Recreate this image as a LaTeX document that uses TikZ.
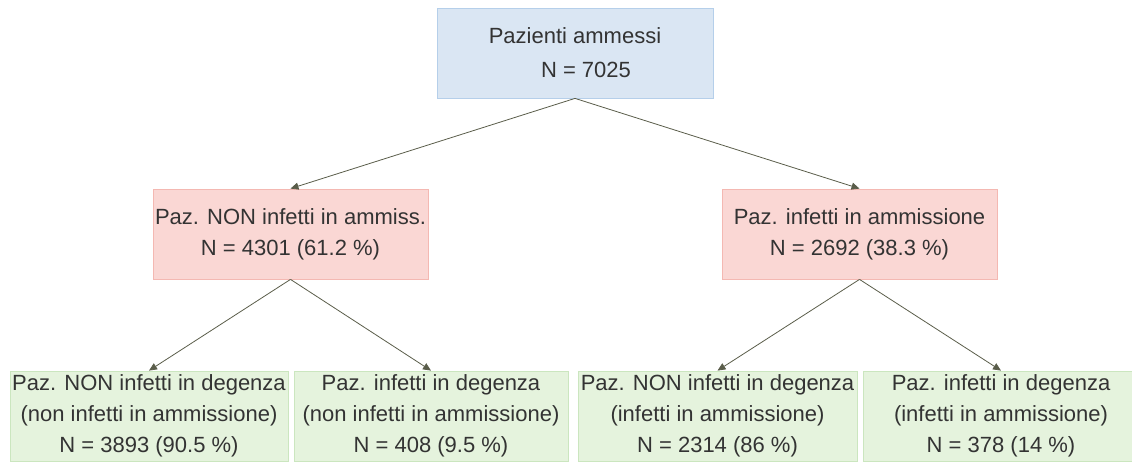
\documentclass[tikz,border=0pt]{standalone}
\usepackage{fontspec}
\setmainfont{Liberation Sans}
\usetikzlibrary{arrows.meta}
\definecolor{bluefill}{HTML}{DAE6F3}
\definecolor{blueline}{HTML}{B5CFEA}
\definecolor{pinkfill}{HTML}{FAD7D4}
\definecolor{pinkline}{HTML}{F4B8B2}
\definecolor{greenfill}{HTML}{E5F3DD}
\definecolor{greenline}{HTML}{CBE6BF}
\definecolor{textgray}{HTML}{333333}
\definecolor{linkgray}{HTML}{5A5D4A}
\tikzset{
  box/.style={rectangle, minimum height=90pt, inner sep=0pt, align=center,
    text=textgray, font=\fontsize{22}{31}\selectfont, line width=0.8pt,
    execute at begin node=\rule{0pt}{25pt}},
  topbox/.style={box, fill=bluefill, draw=blueline},
  midbox/.style={box, fill=pinkfill, draw=pinkline},
  leafbox/.style={box, fill=greenfill, draw=greenline},
  link/.style={draw=linkgray, line width=0.8pt, -{Triangle[length=8pt,width=7pt]}}
}
\begin{document}
\begin{tikzpicture}[x=1pt,y=-1pt]
\useasboundingbox (0,0) rectangle (1132,462);
% Admitted patients
\node[topbox, minimum width=276pt] (ammessi) at (575,53) {Pazienti ammessi\\[3pt]\hspace*{22pt}N = 7025};
% Status at admission
\node[midbox, minimum width=275pt] (noninf) at (290.5,234) {Paz. NON infetti in ammiss.\\N = 4301 (61.2 \%)};
\node[midbox, minimum width=275pt] (inf) at (859.5,234) {Paz. infetti in ammissione\\N = 2692 (38.3 \%)};
% Status during stay
\node[leafbox, minimum width=278pt] (noninfnon) at (149,416) {Paz. NON infetti in degenza\\(non infetti in ammissione)\\N = 3893 (90.5 \%)};
\node[leafbox, minimum width=274pt] (infnon) at (431,416) {Paz. infetti in degenza\\(non infetti in ammissione)\\N = 408 (9.5 \%)};
\node[leafbox, minimum width=279pt] (noninfinf) at (717.5,416) {Paz. NON infetti in degenza\\(infetti in ammissione)\\N = 2314 (86 \%)};
\node[leafbox, minimum width=276pt] (infinf) at (1001,416) {Paz. infetti in degenza\\(infetti in ammissione)\\N = 378 (14 \%)};
% Links
\draw[link] (ammessi.south) -- (noninf.north);
\draw[link] (ammessi.south) -- (inf.north);
\draw[link] (noninf.south) -- (noninfnon.north);
\draw[link] (noninf.south) -- (infnon.north);
\draw[link] (inf.south) -- (noninfinf.north);
\draw[link] (inf.south) -- (infinf.north);
\end{tikzpicture}
\end{document}
